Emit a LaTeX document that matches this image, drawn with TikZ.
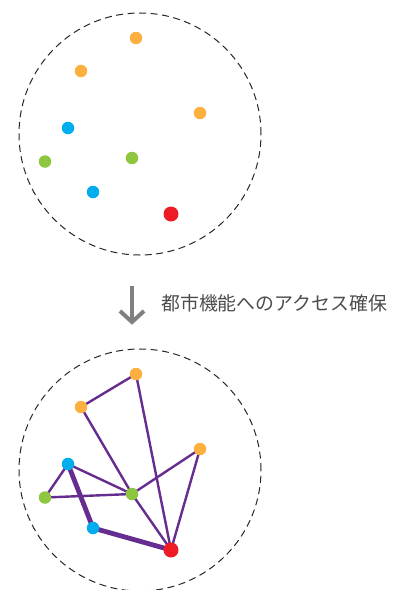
\documentclass[tikz,border=0pt]{standalone}
\usepackage{fontspec}
\newfontfamily\cjk{Noto Sans CJK JP}
\definecolor{cor}{HTML}{FBB040}
\definecolor{cbl}{HTML}{00AEEF}
\definecolor{cgr}{HTML}{8DC63F}
\definecolor{cre}{HTML}{ED1C24}
\definecolor{cpu}{HTML}{662D91}
\definecolor{cgy}{HTML}{808080}
\begin{document}
\begin{tikzpicture}[x=1pt,y=-1pt,
  dot/.style={circle,inner sep=0pt,minimum size=12.5pt,fill=#1},
  bigdot/.style={circle,inner sep=0pt,minimum size=15pt,fill=#1},
  edge/.style={draw=cpu,line width=2.4pt},
  thick edge/.style={draw=cpu,line width=4.8pt},
  ring/.style={draw=black!85,dashed,dash pattern=on 7pt off 4.5pt,line width=1pt}]
\useasboundingbox (0,0) rectangle (400,590);
% top
\node[circle,ring,minimum size=242pt,inner sep=0pt] (c1) at (140,134) {};
\node[dot=cor] (a1) at (136,38) {};
\node[dot=cor] (a2) at (81,71) {};
\node[dot=cor] (a3) at (200,113) {};
\node[dot=cbl] (a4) at (68,128) {};
\node[dot=cgr] (a5) at (45,161.5) {};
\node[dot=cgr] (a6) at (132,158) {};
\node[dot=cbl] (a7) at (93,192) {};
\node[bigdot=cre] (a8) at (171,214) {};
% arrow and label
\coordinate (s) at (132,286);
\coordinate (t) at (132,322);
\draw[cgy,line width=4pt] (s) -- (t);
\draw[cgy,line width=4pt,line join=miter] (120,311) -- (t) -- (144,311);
\node[anchor=west,inner sep=0pt,text=black!70,font=\cjk\fontsize{18.9}{20}\selectfont] (lbl) at (161,303) {都市機能へのアクセス確保};
% bottom
\node[circle,ring,minimum size=242pt,inner sep=0pt] (c2) at (140,470) {};
\coordinate (b1) at (136,374);
\coordinate (b2) at (81,407);
\coordinate (b3) at (200,449);
\coordinate (b4) at (68,464);
\coordinate (b5) at (45,497.5);
\coordinate (b6) at (132,494);
\coordinate (b7) at (93,528);
\coordinate (b8) at (171,550);
\draw[edge] (b1) -- (b2);
\draw[edge] (b2) -- (b6);
\draw[edge] (b1) -- (b8);
\draw[edge] (b3) -- (b6);
\draw[edge] (b3) -- (b8);
\draw[edge] (b4) -- (b6);
\draw[edge] (b4) -- (b5);
\draw[edge] (b5) -- (b6);
\draw[edge] (b6) -- (b8);
\draw[thick edge] (b4) -- (b7);
\draw[thick edge] (b7) -- (b8);
\node[dot=cor] (n1) at (b1) {};
\node[dot=cor] (n2) at (b2) {};
\node[dot=cor] (n3) at (b3) {};
\node[dot=cbl] (n4) at (b4) {};
\node[dot=cgr] (n5) at (b5) {};
\node[dot=cgr] (n6) at (b6) {};
\node[dot=cbl] (n7) at (b7) {};
\node[bigdot=cre] (n8) at (b8) {};
\end{tikzpicture}
\end{document}
